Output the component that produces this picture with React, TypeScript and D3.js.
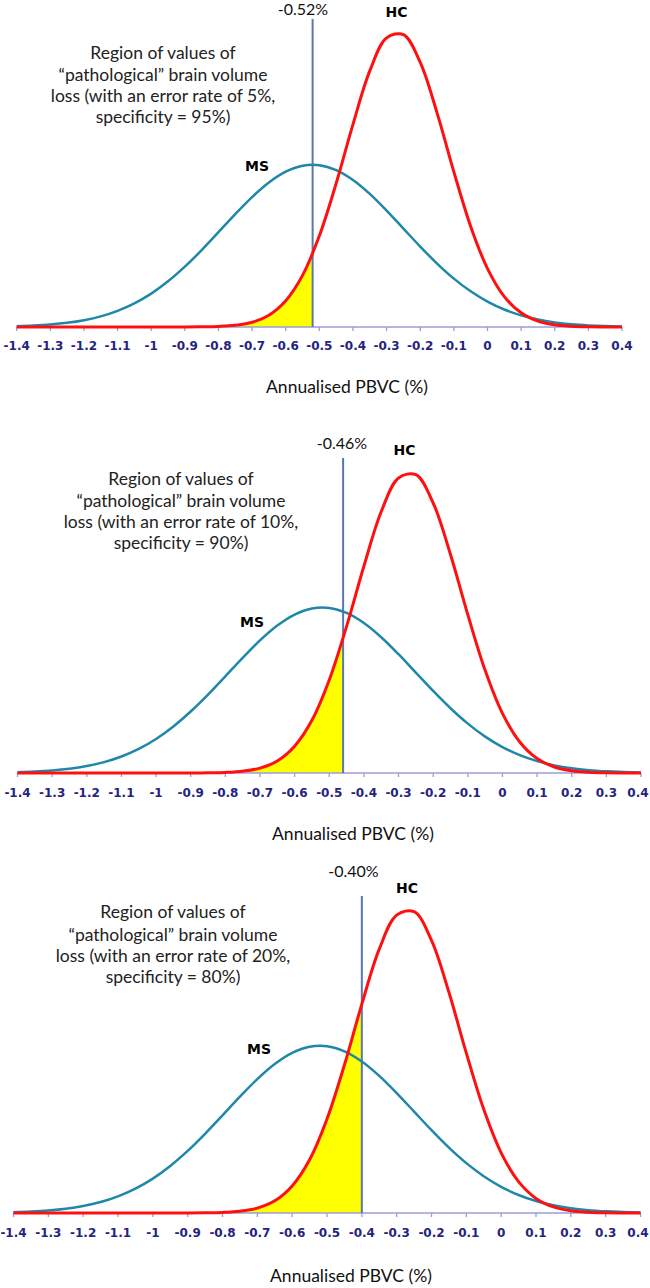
import React from "react";
import * as d3 from "d3";

// Annualised PBVC (%) sample positions
const pbvcGrid = [
  -1.4, -1.35, -1.3, -1.25, -1.2, -1.15, -1.1, -1.05, -1.0, -0.95, -0.9, -0.85,
  -0.8, -0.75, -0.7, -0.65, -0.6, -0.55, -0.5, -0.45, -0.4, -0.35, -0.3, -0.25,
  -0.2, -0.15, -0.1, -0.05, 0.0, 0.05, 0.1, 0.15, 0.2, 0.25, 0.3, 0.35, 0.4,
];

// HC (healthy controls) relative density (peak = 1)
const hcDensity = [
  0, 0, 0, 0, 0, 0, 0, 0, 0, 0, 0.0001, 0.0006,
  0.002, 0.006, 0.016, 0.04, 0.089, 0.175, 0.309, 0.487, 0.687, 0.868, 0.98, 0.991,
  0.897, 0.726, 0.526, 0.341, 0.198, 0.103, 0.048, 0.02, 0.0074, 0.0025, 0.0007, 0.0002, 0.0001,
];

// MS relative density
const msDensity = [
  0.0027, 0.0049, 0.0085, 0.0142, 0.0231, 0.0361, 0.0548, 0.0801, 0.1132, 0.1548, 0.2044, 0.2606,
  0.3213, 0.3827, 0.4404, 0.4898, 0.5264, 0.5466, 0.5485, 0.5318, 0.4983, 0.4511, 0.3946, 0.3336,
  0.2725, 0.2151, 0.164, 0.1209, 0.0861, 0.0593, 0.0394, 0.0253, 0.0157, 0.0094, 0.0055, 0.0031, 0.0017,
];

const tickValues = [
  -1.4, -1.3, -1.2, -1.1, -1.0, -0.9, -0.8, -0.7, -0.6, -0.5, -0.4, -0.3, -0.2, -0.1, 0, 0.1, 0.2, 0.3, 0.4,
];
const tickLabels = [
  "-1.4", "-1.3", "-1.2", "-1.1", "-1", "-0.9", "-0.8", "-0.7", "-0.6", "-0.5", "-0.4", "-0.3", "-0.2", "-0.1", "0", "0.1", "0.2", "0.3", "0.4",
];

const thresholds = [-0.52, -0.46, -0.4];
const thresholdLabels = ["-0.52%", "-0.46%", "-0.40%"];
const errorRates = ["5%", "10%", "20%"];
const specificities = ["95%", "90%", "80%"];
const axisTitle = "Annualised PBVC (%)";
const hcName = "HC";
const msName = "MS";

// layout only
const layouts = [
  { x0: 16.7, x1: 622, yBase: 327, yTop: 32, lineTop: 19, thrX: 303, thrY: 15, hcX: 396.5, hcY: 17, msX: 257, msY: 171, textX: 163, textY: [59, 81, 102, 123], tickY: 350, titleX: 347, titleY: 393 },
  { x0: 17.5, x1: 641, yBase: 773, yTop: 472, lineTop: 458, thrX: 342, thrY: 449, hcX: 404.5, hcY: 455, msX: 252, msY: 627, textX: 181, textY: [485, 507, 528, 549], tickY: 797, titleX: 353, titleY: 840 },
  { x0: 13.5, x1: 640.5, yBase: 1213, yTop: 909, lineTop: 896, thrX: 353.5, thrY: 877, hcX: 407, hcY: 893, msX: 259, msY: 1054, textX: 173, textY: [918, 941, 962, 983], tickY: 1237, titleX: 351, titleY: 1282 },
];

const TEXT_FONT = "Lato, 'Open Sans', sans-serif";
const TICK_FONT = "'DejaVu Sans', Verdana, sans-serif";

function Panel({ idx }: { idx: number }) {
  const L = layouts[idx];
  const thr = thresholds[idx];
  const x = d3.scaleLinear().domain([-1.4, 0.4]).range([L.x0, L.x1]);
  const y = d3.scaleLinear().domain([0, 1]).range([L.yBase, L.yTop]);
  const curve = d3.curveCatmullRom.alpha(0.5);
  const line = d3
    .line<number>()
    .x((_, i) => x(pbvcGrid[i]))
    .y((d) => y(d))
    .curve(curve);
  const area = d3
    .area<number>()
    .x((_, i) => x(pbvcGrid[i]))
    .y0(L.yBase)
    .y1((d) => y(d))
    .curve(curve);
  const clipId = `clip-${idx}`;
  const lines = [
    "Region of values of",
    "\u201Cpathological\u201D brain volume",
    `loss (with an error rate of ${errorRates[idx]},`,
    `specificity = ${specificities[idx]})`,
  ];
  return (
    <g>
      <defs>
        <clipPath id={clipId}>
          <rect x={L.x0} y={L.yTop - 30} width={x(thr) - L.x0} height={L.yBase - L.yTop + 30} />
        </clipPath>
      </defs>
      <path d={area(hcDensity) || ""} fill="#ffff00" clipPath={`url(#${clipId})`} />
      {/* axis */}
      <line x1={L.x0} x2={L.x1} y1={L.yBase} y2={L.yBase} stroke="#9c9cdc" strokeWidth={1.5} />
      {tickValues.map((t, i) => (
        <line key={i} x1={x(t)} x2={x(t)} y1={L.yBase} y2={L.yBase + 4} stroke="#9c9cdc" strokeWidth={1.3} />
      ))}
      {tickValues.map((t, i) => (
        <text key={"l" + i} x={Math.min(x(t), 638)} y={L.tickY} textAnchor="middle" fontFamily={TICK_FONT} fontWeight="bold" fontSize={12} fill="#24247e">
          {tickLabels[i]}
        </text>
      ))}
      {/* threshold line */}
      <line x1={x(thr)} x2={x(thr)} y1={L.lineTop} y2={L.yBase} stroke="#5a78ad" strokeWidth={2} />
      <path d={line(msDensity) || ""} fill="none" stroke="#1f88a8" strokeWidth={2.5} />
      <path d={line(hcDensity) || ""} fill="none" stroke="#ff1010" strokeWidth={3} />
      <text x={L.thrX} y={L.thrY} textAnchor="middle" fontFamily={TEXT_FONT} fontSize={16} fill="#111">
        {thresholdLabels[idx]}
      </text>
      <text x={L.hcX} y={L.hcY} textAnchor="middle" fontFamily={TICK_FONT} fontWeight="bold" fontSize={14} fill="#000">
        {hcName}
      </text>
      <text x={L.msX} y={L.msY} textAnchor="middle" fontFamily={TICK_FONT} fontWeight="bold" fontSize={14} fill="#000">
        {msName}
      </text>
      {lines.map((s, i) => (
        <text key={"t" + i} x={L.textX} y={L.textY[i]} textAnchor="middle" fontFamily={TEXT_FONT} fontSize={17.5} fill="#222">
          {s}
        </text>
      ))}
      <text x={L.titleX} y={L.titleY} textAnchor="middle" fontFamily={TEXT_FONT} fontSize={17.5} fill="#111">
        {axisTitle}
      </text>
    </g>
  );
}

export default function App() {
  return (
    <svg width={650} height={1288} style={{ position: "absolute", left: 0, top: 0, background: "#fff" }}>
      {thresholds.map((_, i) => (
        <Panel key={i} idx={i} />
      ))}
    </svg>
  );
}
